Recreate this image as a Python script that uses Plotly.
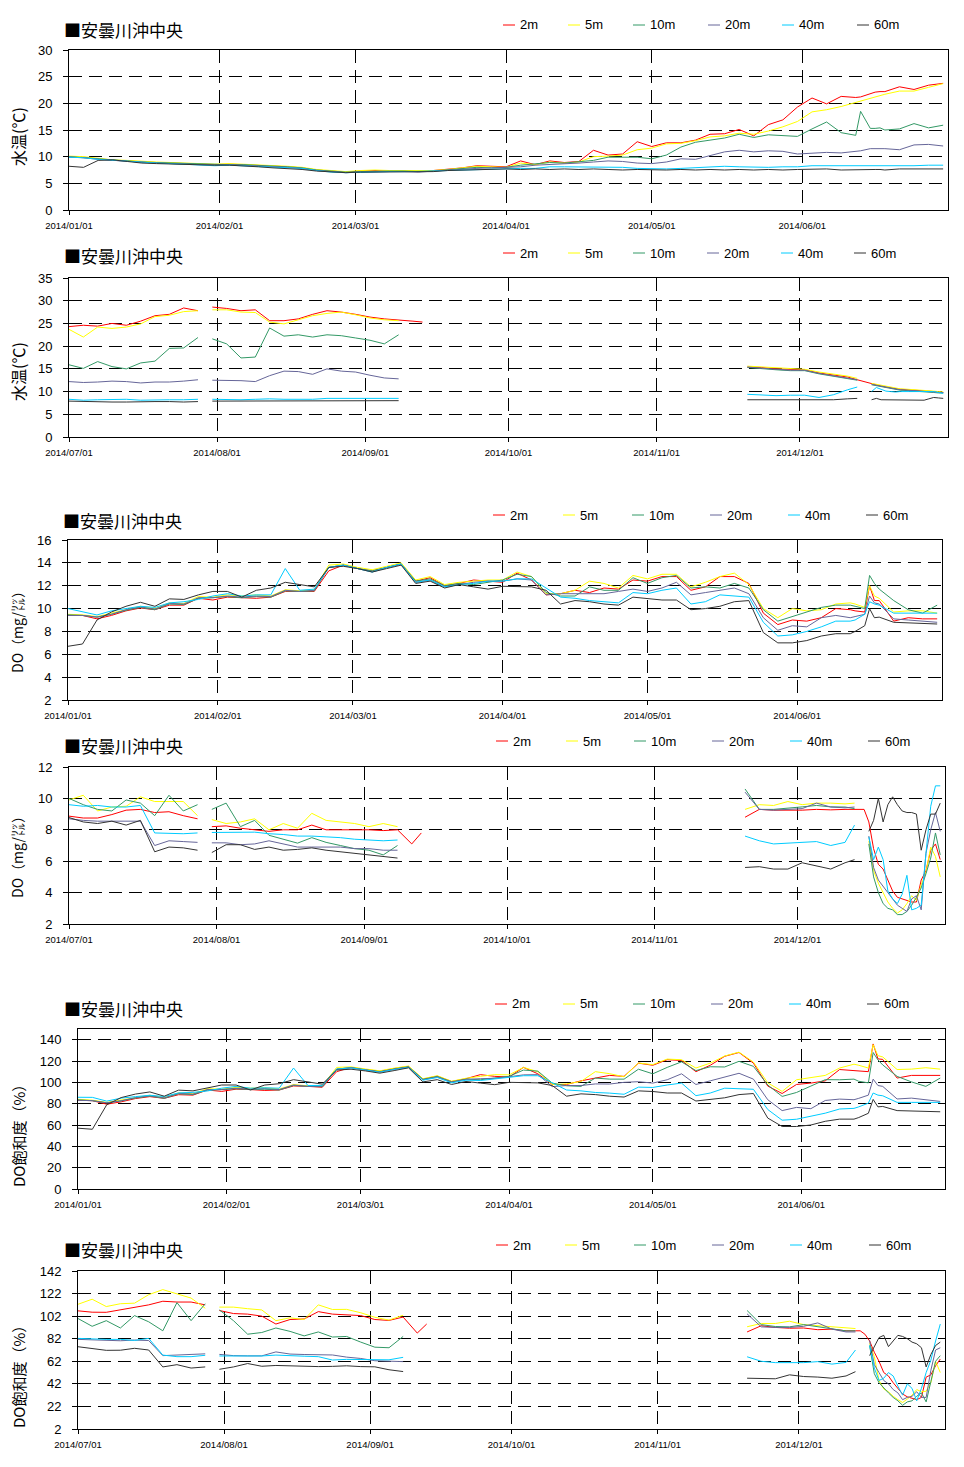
import plotly.graph_objects as go
from datetime import date, timedelta

N = None
W, H = 964, 1467
DEPTHS = ["2m", "5m", "10m", "20m", "40m", "60m"]
COLORS = ["#FF0000", "#FFFF00", "#339966", "#666699", "#00CCFF", "#333333"]
STATION = "■安曇川沖中央"

# sample days (offset from 2014-01-01 / 2014-07-01)
DAYS_H1 = [0, 3, 6, 9, 12, 15, 18, 21, 24, 27, 30, 33, 36, 39, 42, 45, 48, 51, 54, 57,
           60, 63, 66, 69, 72, 75, 78, 81, 84, 87, 90, 93, 96, 99, 102, 105, 108, 111, 114, 117,
           120, 123, 126, 129, 132, 135, 138, 141, 144, 147, 150, 153, 156, 159, 162,
           163, 165, 166, 167, 168, 171, 174, 177, 180]
DAYS_H2 = [0, 3, 6, 9, 12, 15, 18, 21, 24, 27, 28, 30, 33, 36, 39, 42, 45, 48, 51, 54, 57,
           60, 63, 66, 69, 72, 74, 80, 142, 145, 148, 151, 154, 157, 160, 163, 165, 166, 167,
           168, 169, 170, 171, 172, 173, 174, 175, 176, 177, 178, 179, 180, 181, 182, 183]
MONTHS_H1 = ["2014/01/01", "2014/02/01", "2014/03/01", "2014/04/01", "2014/05/01", "2014/06/01"]
MONTHS_H2 = ["2014/07/01", "2014/08/01", "2014/09/01", "2014/10/01", "2014/11/01", "2014/12/01"]

# ---------------- Panel 1: water temperature Jan-Jun ----------------
WT1_2m = [10.0, 9.9, 9.6, 9.3, 9.2, 9.0, 8.9, 8.8, 8.7, 8.6, 8.5, 8.6, 8.5, 8.4, 8.3, 8.1, 7.9, 7.5, 7.3, 7.1,
          7.3, 7.4, 7.3, 7.3, 7.2, 7.4, 7.6, 7.9,
          8.3, 8.2, 8.1, 9.2, 8.5, 9.2, 8.9, 9.1, 11.2, 10.3, 10.5, 12.8, 11.9, 12.6, 12.6, 13.1, 14.2, 14.3,
          15.1, 13.9, 16.0, 16.9, 19.3, 21.0, 19.9, 21.3, 21.1,
          21.2, 21.9, 22.1, 22.2, 22.2, 23.1, 22.6, 23.4, 23.75]
WT1_5m = [10.1, 10.0, 9.7, 9.4, 9.3, 9.1, 9.0, 8.9, 8.8, 8.7, 8.6, 8.7, 8.6, 8.5, 8.4, 8.2, 8.0, 7.6, 7.4, 7.2,
          7.4, 7.5, 7.4, 7.4, 7.3, 7.4, 7.6, 7.9,
          8.2, 8.1, 8.0, 8.8, 8.5, 9.0, 8.8, 9.0, 10.0, 10.1, 10.3, 11.3, 11.6, 12.4, 12.5, 13.0, 13.7, 13.9,
          14.4, 14.2, 14.8, 15.6, 16.6, 18.4, 18.8, 19.4, 20.2,
          20.4, 21.0, 21.2, 21.4, 21.7, 22.3, 22.3, 23.0, 23.7]
WT1_10m = [10.0, 9.8, 9.5, 9.3, 9.2, 9.0, 8.9, 8.8, 8.7, 8.6, 8.5, 8.5, 8.5, 8.4, 8.3, 8.1, 7.9, 7.5, 7.3, 7.1,
           7.2, 7.3, 7.3, 7.3, 7.2, 7.3, 7.5, 7.8,
           8.0, 7.9, 8.0, 8.4, 8.6, 8.9, 8.8, 9.0, 9.3, 9.9, 9.9, 9.9, 9.6, 10.3, 11.8, 12.7, 13.1, 13.5,
           14.2, 13.6, 14.1, 14.0, 13.8, 15.2, 16.5, 14.5, 14.0,
           18.5, 15.3, 15.3, 15.4, 15.0, 15.2, 16.2, 15.4, 15.9]
WT1_20m = [9.9, 9.8, 9.5, 9.3, 9.1, 8.9, 8.8, 8.7, 8.6, 8.5, 8.4, 8.5, 8.4, 8.3, 8.2, 8.0, 7.8, 7.4, 7.2, 7.0,
           7.1, 7.2, 7.2, 7.2, 7.1, 7.3, 7.5, 7.7,
           7.8, 7.9, 8.0, 8.1, 8.4, 8.5, 8.6, 8.8, 9.0, 9.2, 9.1, 8.8, 8.7, 9.0, 9.6, 9.5, 10.2, 10.9,
           11.2, 10.9, 11.1, 11.0, 10.5, 10.7, 10.8, 10.7, 10.9,
           11.1, 11.5, 11.5, 11.5, 11.5, 11.3, 12.2, 12.3, 12.0]
WT1_40m = [9.9, 9.8, 9.5, 9.3, 9.1, 8.9, 8.8, 8.7, 8.6, 8.5, 8.3, 8.4, 8.3, 8.2, 8.1, 8.0, 7.8, 7.4, 7.1, 7.0,
           7.1, 7.2, 7.2, 7.2, 7.2, 7.3, 7.4, 7.5,
           7.6, 7.6, 7.7, 7.8, 7.8, 8.1, 8.1, 8.1, 8.1, 8.1, 8.0, 7.8, 7.7, 7.7, 7.8, 7.9, 8.0, 8.2,
           8.1, 8.0, 8.0, 8.1, 8.1, 8.3, 8.3, 8.2, 8.2,
           8.2, 8.3, 8.3, 8.3, 8.3, 8.3, 8.3, 8.4, 8.4]
WT1_60m = [8.2, 8.0, 9.3, 9.4, 9.1, 8.8, 8.7, 8.6, 8.6, 8.5, 8.4, 8.4, 8.3, 8.1, 7.9, 7.8, 7.6, 7.3, 7.1, 7.0,
           7.1, 7.1, 7.2, 7.2, 7.2, 7.2, 7.4, 7.5,
           7.5, 7.6, 7.7, 7.6, 7.7, 7.6, 7.7, 7.6, 7.7, 7.6, 7.5, 7.6, 7.5, 7.5, 7.6, 7.5, 7.6, 7.5,
           7.6, 7.5, 7.6, 7.5, 7.6, 7.6, 7.7, 7.5, 7.6,
           7.6, 7.6, 7.6, 7.6, 7.5, 7.7, 7.7, 7.7, 7.7]

# ---------------- Panel 2: water temperature Jul-Dec ----------------
WT2_2m = [24.3, 24.6, 24.4, 25.0, 24.6, 25.5, 26.7, 27.0, 28.4, 27.8, N,
          28.6, 28.3, 27.8, 28.0, 25.6, 25.6, 26.0, 27.0, 27.8, 27.5, 27.0, 26.4, 26.0, 25.8, 25.5, 25.3, N,
          15.4, 15.3, 15.0, 14.9, 14.8, 14.1, 13.7, 13.2, 12.6, 12.3, 12.0,
          11.7, 11.5, 11.2, 11.0, 10.8, 10.6, 10.5, 10.45, 10.4, 10.3, 10.2, 10.15, 10.05, 10.0, 9.9, 9.8]
WT2_5m = [23.7, 22.0, 24.2, 23.9, 24.2, 24.9, 26.5, 26.8, 27.6, 27.8, N,
          28.0, 28.0, 27.5, 27.4, 25.3, 24.9, 25.8, 26.7, 27.2, 27.5, 26.9, 26.2, 25.8, 25.6, N, N, N,
          15.6, 15.4, 15.2, 15.0, 14.9, 14.3, 13.9, 13.4, 12.9, N, N,
          11.8, 11.6, 11.3, 11.1, 10.9, 10.7, 10.6, 10.55, 10.5, 10.4, 10.3, 10.25, 10.15, 10.1, 10.0, 9.9]
WT2_10m = [15.9, 15.1, 16.6, 15.5, 15.0, 16.3, 16.7, 19.5, 19.6, 21.9, N,
           21.6, 20.5, 17.4, 17.6, 24.0, 22.2, 22.5, 22.0, 22.5, 22.3, 21.8, 21.3, 20.5, 22.5, N, N, N,
           15.3, 15.0, 14.8, 14.6, 14.6, 13.9, 13.4, 12.8, 12.5, N, N,
           11.5, 11.3, 11.0, 10.8, 10.6, 10.4, 10.3, 10.25, 10.2, 10.1, 10.0, 9.95, 9.85, 9.8, 9.7, 9.7]
WT2_20m = [12.2, 12.0, 12.1, 12.3, 12.2, 11.9, 12.1, 12.1, 12.3, 12.6, N,
           12.5, 12.5, 12.4, 12.2, 13.5, 14.5, 14.4, 13.8, 15.0, 14.5, 14.3, 13.6, 13.0, 12.8, N, N, N,
           15.4, 15.1, 14.9, 14.7, 14.7, 14.0, 13.5, 12.9, 12.6, N, N,
           11.6, 11.4, 11.1, 10.9, 10.7, 10.5, 10.4, 10.35, 10.3, 10.2, 10.1, 10.0, 9.95, 9.9, 9.8, 9.8]
WT2_40m = [8.3, 8.1, 8.2, 8.3, 8.3, 8.1, 8.2, 8.2, 8.2, 8.3, N,
           8.3, 8.2, 8.2, 8.3, 8.4, 8.3, 8.3, 8.3, 8.5, 8.5, 8.5, 8.5, 8.5, 8.5, N, N, N,
           9.4, 9.3, 9.1, 9.2, 9.2, 8.7, 9.3, 10.4, 11.0, N, N,
           10.0, 10.9, 10.5, 10.1, 10.0, 9.9, 10.0, 10.0, 10.0, 10.0, 10.0, 10.0, 10.0, 10.0, 9.8, 9.6]
WT2_60m = [7.9, 7.8, 7.8, 7.7, 7.7, 7.8, 7.8, 7.8, 7.7, 7.8, N,
           7.9, 7.9, 7.9, 7.9, 8.0, 7.9, 8.0, 8.0, 8.0, 8.0, 8.0, 8.0, 8.0, 8.0, N, N, N,
           8.2, 8.2, 8.2, 8.2, 8.3, 8.2, 8.2, 8.4, 8.5, N, N,
           8.2, 8.5, 8.2, 8.2, 8.2, 8.2, 8.2, 8.2, 8.2, 8.1, 8.1, 8.1, 8.4, 8.7, 8.6, 8.5]

# ---------------- Panel 3: DO (mg/L) Jan-Jun ----------------
DO1_2m = [9.4, 9.4, 9.1, 9.4, 9.8, 10.05, 9.9, 10.3, 10.3, 10.9, 10.75, 11.0, 10.95, 10.9, 11.0, 11.5, 11.5, 11.5, 13.3,
          13.8, 13.5, 13.3, 13.6, 13.9, 12.4, 12.7, 12.0, 12.2,
          12.5, 12.4, 12.3, 13.1, 12.5, 11.2, 11.3, 11.6, 11.4, 11.8, 11.7, 12.5, 12.4, 12.8, 12.8, 11.6, 11.9,
          12.8, 12.8, 12.2, 9.6, 8.6, 9.0, 8.9, 9.2, 10.0, 9.9,
          9.8, 9.7, 12.0, 10.7, 10.7, 8.9, 9.2, 9.1, 9.1]
DO1_5m = [9.5, 9.45, 9.3, 9.6, 9.95, 10.2, 10.0, 10.5, 10.45, 11.05, 11.0, 11.2, 11.1, 11.2, 11.1, 11.65, 11.55, 11.65, 13.8,
          13.9, 13.6, 13.4, 13.7, 14.0, 12.5, 12.8, 12.1, 12.3,
          12.4, 12.5, 12.5, 13.2, 12.8, 11.3, 11.3, 11.6, 12.4, 12.2, 11.8, 12.9, 12.6, 13.0, 13.0, 11.9, 12.3,
          12.8, 13.1, 12.1, 10.0, 9.2, 10.0, 9.8, 9.9, 10.4, 10.5,
          10.4, 10.1, 12.0, 11.1, 10.9, 9.7, 9.8, 9.8, 9.6]
DO1_10m = [9.45, 9.4, 9.25, 9.5, 9.85, 10.1, 9.9, 10.4, 10.35, 10.9, 10.95, 11.05, 10.95, 11.05, 11.0, 11.55, 11.5, 11.55, 13.6,
           13.8, 13.5, 13.3, 13.6, 13.9, 12.4, 12.6, 12.0, 12.2,
           12.1, 12.3, 12.5, 13.0, 12.8, 11.4, 11.1, 11.1, 11.9, 11.6, 11.6, 12.7, 12.2, 12.7, 12.9, 11.8, 11.9,
           11.8, 12.2, 11.8, 9.9, 8.9, 9.3, 9.7, 10.1, 10.3, 10.3,
           10.2, 10.0, 12.9, 12.2, 11.7, 10.7, 9.9, 9.6, 10.3]
DO1_20m = [9.4, 9.4, 9.25, 9.5, 9.9, 10.15, 9.95, 10.45, 10.4, 10.95, 10.95, 11.1, 11.0, 11.1, 11.05, 11.6, 11.5, 11.6, 13.6,
           13.8, 13.5, 13.2, 13.6, 13.9, 12.3, 12.5, 11.9, 12.1,
           12.3, 12.4, 12.4, 12.6, 12.5, 11.2, 11.3, 11.3, 11.3, 11.3, 11.5, 11.7, 11.5, 11.8, 12.3, 11.2, 11.4,
           11.6, 11.8, 11.3, 9.2, 8.1, 8.5, 8.4, 9.2, 9.4, 9.2,
           9.3, 9.5, 11.1, 10.5, 10.4, 9.1, 9.0, 8.9, 8.8]
DO1_40m = [10.0, 9.75, 9.44, 9.8, 10.0, 10.2, 10.1, 10.5, 10.6, 10.8, 11.1, 11.3, 11.1, 11.2, 11.2, 13.5, 11.6, 11.7, 13.6,
           13.8, 13.5, 13.2, 13.6, 13.9, 12.3, 12.5, 11.9, 12.1,
           12.2, 12.4, 12.4, 12.6, 12.6, 11.8, 11.0, 10.9, 10.7, 10.6, 10.5, 11.4, 11.3, 11.6, 11.8, 10.4, 10.6,
           11.2, 11.1, 11.0, 8.8, 7.6, 7.7, 8.0, 8.4, 8.9, 8.9,
           9.0, 9.5, 10.6, 10.4, 10.3, 9.6, 9.6, 9.6, 9.6]
DO1_60m = [6.7, 6.9, 9.0, 9.7, 10.2, 10.55, 10.2, 10.85, 10.8, 11.2, 11.5, 11.5, 11.0, 11.6, 11.8, 12.3, 12.1, 11.9, 13.6,
           13.7, 13.5, 13.2, 13.5, 13.8, 12.2, 12.4, 11.8, 12.1,
           11.9, 11.7, 11.95, 11.95, 11.9, 11.6, 10.4, 10.7, 10.6, 10.4, 10.3, 11.0, 10.9, 10.75, 10.75, 9.9, 10.0,
           10.2, 10.6, 10.7, 7.9, 7.0, 7.0, 7.2, 7.6, 7.8, 7.8,
           8.0, 8.5, 10.0, 9.2, 9.25, 8.8, 8.75, 8.7, 8.65]

# ---------------- Panel 4: DO (mg/L) Jul-Dec ----------------
DO2_2m = [8.87, 8.75, 8.75, 8.97, 9.25, 9.3, 9.1, 9.15, 8.9, 8.7, N,
          8.2, 8.25, 8.1, 8.0, 7.9, 8.0, 8.0, 8.3, 8.0, 8.0, 8.0, 8.0, 7.95, 8.0, 7.1, 7.8, N,
          8.8, 9.3, 9.25, 9.25, 9.25, 9.3, 9.27, 9.3, 9.3, 9.3, 9.3,
          8.5, 6.8, 5.8, 5.5, 4.8, 4.1, 3.7, 3.6, 3.45, 3.4, 3.4, 4.8, 5.4, 6.7, 7.1, 6.1]
DO2_5m = [9.9, 10.2, 9.2, 9.45, 9.5, 10.1, 9.8, 9.8, 9.8, 8.9, N,
          8.65, 8.4, 8.5, 8.7, 8.0, 8.4, 8.1, 9.05, 8.6, 8.5, 8.4, 8.2, 8.4, 8.2, N, N, N,
          9.3, 9.6, 9.55, 9.8, 9.6, 9.7, 9.7, 9.65, 9.7, N, N,
          7.3, 5.4, 4.6, 4.0, 3.4, 3.0, 2.7, 2.9, 3.3, 3.8, 3.5, 4.5, 5.3, 6.9, 6.3, 5.0]
DO2_10m = [10.0, 9.6, 9.3, 9.2, 9.9, 9.7, 8.9, 10.2, 9.2, 9.6, N,
           9.3, 9.7, 8.2, 8.6, 7.65, 7.4, 7.15, 7.5, 7.2, 7.0, 6.8, 6.7, 6.4, 7.0, N, N, N,
           10.6, 9.3, 9.3, 9.4, 9.46, 9.55, 9.46, 9.45, 9.35, N, N,
           7.1, 5.0, 4.0, 3.3, 3.0, 2.9, 2.6, 2.6, 2.8, 3.2, 3.7, 4.3, 5.2, 6.2, 7.8, 6.4]
DO2_20m = [8.7, 8.6, 8.55, 8.55, 8.55, 8.55, 7.0, 7.3, 7.25, 7.2, N,
           7.17, 7.17, 7.05, 7.1, 7.3, 7.1, 6.9, 6.9, 6.9, 6.9, 6.8, 6.8, 6.7, 6.7, N, N, N,
           10.4, 9.3, 9.25, 9.3, 9.35, 9.7, 9.45, 9.4, 9.45, N, N,
           7.6, 5.6, 4.8, 4.4, 4.0, 3.6, 3.2, 3.0, 2.8, 3.6, 3.8, 2.9, 6.5, 8.0, 9.1, 7.9]
DO2_40m = [9.6, 9.5, 9.55, 9.45, 9.45, 9.55, 7.8, 7.77, 7.75, 7.8, N,
           7.83, 7.85, 7.85, 7.85, 7.75, 7.7, 7.6, 7.6, 7.55, 7.5, 7.4, 7.35, 7.3, 7.35, N, N, N,
           7.6, 7.3, 7.1, 7.15, 7.2, 7.25, 7.0, 7.2, 8.3, N, N,
           7.55, 6.1, 6.9, 6.1, 4.1, 3.6, 3.3, 3.9, 5.1, 2.9, 3.0, 3.2, 6.5, 9.5, 10.8, 10.8]
DO2_60m = [8.78, 8.5, 8.4, 8.55, 8.3, 8.6, 6.6, 6.9, 6.85, 6.7, N,
           6.55, 7.05, 7.05, 6.75, 6.9, 6.7, 6.75, 6.85, 6.7, 6.6, 6.5, 6.4, 6.3, 6.2, N, N, N,
           5.6, 5.65, 5.5, 5.5, 5.9, 5.7, 5.5, 5.9, 6.1, N, N,
           7.9, 8.6, 10.0, 8.5, 9.6, 10.1, 9.6, 9.2, 9.1, 9.1, 9.0, 6.7, 8.0, 9.0, 9.0, 9.7]

# ---------------- Panel 5: DO saturation (%) Jan-Jun ----------------
SAT1_2m = [83.2, 82.8, 79.5, 81.7, 84.8, 86.6, 85.0, 88.4, 88.0, 92.8, 91.5, 93.6, 93.2, 92.4, 92.8, 96.6, 96.2, 95.4,
           110, 114, 112, 110.4, 112.9, 114.9, 103, 105.8, 100.8, 103.4,
           107.2, 105.6, 105, 114, 108, 98, 98, 101.4, 104, 106.5, 105.6, 118, 116, 121.2, 120.5, 110, 116,
           124.4, 128, 118, 96.5, 89.5, 98, 99.3, 101.4, 112, 111,
           110.5, 110, 136, 122, 121.5, 104, 106.5, 106.5, 106.5]
SAT1_5m = [84.1, 83.3, 81.2, 83.5, 86.1, 87.9, 85.8, 90.1, 89.3, 94, 93.6, 95.3, 94.5, 94.9, 93.7, 97.9, 96.7, 96.7,
           114, 114.5, 112.5, 110.8, 113.3, 115.3, 103.4, 106.2, 101, 103.8,
           105.6, 107.2, 107, 114, 110, 98, 98.5, 100.8, 110, 108.1, 105.2, 118.1, 116.6, 121.8, 121.2, 113.4, 118,
           124.7, 128.3, 119, 99.5, 91.5, 102.4, 104.2, 106.5, 113.4, 117,
           116, 113.4, 135.3, 125, 123.8, 112, 112.4, 113.7, 112.4]
SAT1_10m = [83.6, 82.8, 80.8, 82.6, 85.3, 87.1, 85.0, 89.3, 88.5, 92.8, 93.2, 94.0, 93.2, 93.6, 92.8, 97.1, 96.2, 95.9,
            112.4, 113.8, 111.8, 110, 112.5, 114.6, 102.8, 105.5, 100.5, 103,
            102.4, 104, 105.6, 111.5, 110.5, 99.3, 96.8, 96.2, 104, 103, 103, 112.3, 108, 114, 119.2, 111, 114.6,
            114.4, 119.7, 115, 97.5, 86.8, 90.5, 96.5, 102.5, 102.4, 103,
            101, 99.5, 128, 121, 116.3, 105.6, 100.4, 96.2, 104]
SAT1_20m = [83.2, 82.8, 80.8, 82.6, 85.7, 87.5, 85.4, 89.7, 88.9, 93.2, 93.2, 94.5, 93.6, 94.1, 93.2, 97.5, 96.2, 96.3,
            112.4, 113.8, 111.6, 109.8, 112.3, 114.3, 102.5, 105, 100.2, 102.8,
            103.4, 103.8, 105.2, 107, 107.2, 96, 97, 97, 98.5, 98.4, 100, 100.6, 99.3, 102.4, 108, 98, 101.4,
            105.3, 108.5, 103, 83.7, 73.5, 76.5, 75.3, 83, 84.3, 83.7,
            85, 88, 103, 97, 96.2, 84.4, 85.2, 83.5, 82.1]
SAT1_40m = [86, 85.9, 82.4, 85.2, 86.6, 87.9, 86.7, 90.1, 90.6, 91.9, 94.5, 96.2, 94.5, 94.9, 94.5, 113.4, 97, 97.1,
            112.4, 113.5, 111.5, 109.5, 112, 114, 102, 104.5, 99.5, 102,
            101.7, 103.2, 104.5, 106.2, 106.2, 99.8, 92.8, 92, 90.5, 89.9, 88.8, 95.5, 95.2, 97.5, 99.3, 87.5, 90,
            94.5, 94, 93.5, 74.5, 64.5, 65.4, 68, 71.1, 75, 75.6,
            77, 80.5, 90, 88, 87.4, 81.2, 81.2, 81.2, 81.2]
SAT1_60m = [57, 56, 79, 85.7, 89, 91, 87, 92.7, 92, 95, 97.5, 97.5, 92.8, 97.5, 98.7, 102.5, 100.4, 98.3,
            111.5, 112.3, 110.7, 108.6, 111, 113.6, 100.4, 102.5, 98, 100.8,
            99.3, 97.8, 100, 100, 99.5, 97, 87, 89.2, 88.5, 87, 86.2, 92, 91.4, 90, 90, 82.5, 84,
            85.5, 88.5, 89.5, 66.5, 58.6, 58.6, 60, 63.5, 65.5, 65.5,
            67, 71, 84, 77, 77.4, 73.5, 73.3, 72.5, 72.4]

# ---------------- Panel 6: DO saturation (%) Jul-Dec ----------------
SAT2_2m = [106.7, 105.5, 105.4, 107.5, 109.5, 112, 115.2, 114.5, 114.5, 112, N,
           107, 104.3, 103.8, 102, 95, 99, 99.5, 106, 103.8, 103.3, 102.5, 99, 98.2, 101.2, 87, 95, N,
           88, 93.5, 92, 91.3, 91.5, 90, 90.5, 89, 89, 89, 86,
           80, 70, 62, 52, 49, 43, 38, 33, 30.5, 29, 28, 30, 48, 50, 58, 64]
SAT2_5m = [112.5, 117, 110.5, 113, 113.5, 121, 125.5, 122, 118, 109, N,
           110, 110, 108.6, 107.5, 98, 100.5, 99, 112, 107.9, 108, 105, 101, 98.5, 102.8, N, N, N,
           92.6, 95.5, 95.5, 97.5, 94.5, 93.5, 92.5, 92, 91, N, N,
           78, 66, 45, 37.5, 35, 31, 28, 25.5, 28.5, 32, 37, 35, 35.5, 43, 62, 52]
SAT2_10m = [99.9, 93, 98, 91.5, 102.5, 97, 89, 114, 98, 113, N,
            107.5, 98, 86, 87.5, 91.5, 88.5, 84.5, 88, 83.5, 84, 79, 74.5, 74, 84, N, N, N,
            107, 94.5, 92.8, 92.5, 94.5, 92.6, 91, 88.9, 89, N, N,
            76, 51, 43, 38, 34, 30, 27, 23, 26, 27, 31, 34, 26, 44, 62, 67]
SAT2_20m = [81.4, 81, 80.8, 80.2, 80.8, 80.4, 67, 67.5, 68.2, 68.6, N,
            68.1, 67, 66.8, 66.8, 70.3, 68.4, 68, 68, 67.6, 65.7, 64.5, 62.5, 62, 61.7, N, N, N,
            104, 92.5, 92, 92, 93, 96, 90.5, 88, 88, N, N,
            80.5, 59, 52, 45, 42, 37, 34, 28, 30, 31, 35, 30, 30, 54, 72, 74]
SAT2_40m = [82.3, 81.6, 81.4, 81.4, 80.5, 82.3, 67.5, 66.1, 66.1, 67.3, N,
            66.7, 66.7, 66.7, 66.7, 67.5, 66.7, 66.5, 66.1, 63.1, 63.7, 63.7, 63.5, 63.3, 65.5, N, N, N,
            66, 62, 60.8, 60.8, 60.8, 61.7, 59.5, 61, 72, N, N,
            76, 56, 45, 47, 52, 49, 40, 32, 42, 38, 27, 38, 52, 63, 80, 95]
SAT2_60m = [74.9, 73.3, 71.7, 71.8, 73.5, 72, 57, 59, 56, 57, N,
            54.9, 57, 60, 57.6, 58.3, 57.9, 57.3, 57.3, 57.5, 58, 57.3, 57.1, 54.5, 52.9, N, N, N,
            47, 47, 46.5, 50, 48.5, 48, 47, 49, 52.8, N, N,
            67, 75, 83, 85, 75, 80, 85, 84, 82, 79, 77.5, 74, 57, 68, 76, 79]


def to_dates(base, days):
    return [(base + timedelta(days=d)).isoformat() for d in days]


H1 = dict(base=date(2014, 1, 1), end="2014-07-01", days=DAYS_H1, months=MONTHS_H1)
H2 = dict(base=date(2014, 7, 1), end="2015-01-01", days=DAYS_H2, months=MONTHS_H2)

PANELS = [
    dict(half=H1, box=(69, 948, 50, 210), yr=[0, 30], yt=[0, 5, 10, 15, 20, 25, 30],
         series=[WT1_2m, WT1_5m, WT1_10m, WT1_20m, WT1_40m, WT1_60m],
         ytitle="水温(℃)", ytsize=16, ytpos=(18, 137), tpos=(62, 29),
         leg=([503, 568, 633, 708, 782, 857], 25)),
    dict(half=H2, box=(69, 948, 278, 437), yr=[0, 35], yt=[0, 5, 10, 15, 20, 25, 30, 35],
         series=[WT2_2m, WT2_5m, WT2_10m, WT2_20m, WT2_40m, WT2_60m],
         ytitle="水温(℃)", ytsize=16, ytpos=(18, 372), tpos=(62, 256),
         leg=([503, 568, 633, 707, 781, 854], 253)),
    dict(half=H1, box=(68, 942, 540, 700), yr=[2, 16], yt=[2, 4, 6, 8, 10, 12, 14, 16],
         series=[DO1_2m, DO1_5m, DO1_10m, DO1_20m, DO1_40m, DO1_60m],
         ytitle="DO（mg/㍑）", ytsize=14, ytpos=(17, 629), tpos=(61, 520),
         leg=([493, 563, 632, 710, 788, 866], 515)),
    dict(half=H2, box=(69, 945, 767, 924), yr=[2, 12], yt=[2, 4, 6, 8, 10, 12],
         series=[DO2_2m, DO2_5m, DO2_10m, DO2_20m, DO2_40m, DO2_60m],
         ytitle="DO（mg/㍑）", ytsize=14, ytpos=(17, 854), tpos=(62, 745),
         leg=([496, 566, 634, 712, 790, 868], 741)),
    dict(half=H1, box=(78, 945, 1029, 1189), yr=[0, 150], yt=[0, 20, 40, 60, 80, 100, 120, 140],
         series=[SAT1_2m, SAT1_5m, SAT1_10m, SAT1_20m, SAT1_40m, SAT1_60m],
         ytitle="DO飽和度（%）", ytsize=15, ytpos=(18, 1132), tpos=(62, 1008),
         leg=([495, 563, 633, 711, 789, 867], 1004)),
    dict(half=H2, box=(78, 945, 1271, 1429), yr=[2, 142], yt=[2, 22, 42, 62, 82, 102, 122, 142],
         series=[SAT2_2m, SAT2_5m, SAT2_10m, SAT2_20m, SAT2_40m, SAT2_60m],
         ytitle="DO飽和度（%）", ytsize=15, ytpos=(18, 1373), tpos=(62, 1249),
         leg=([496, 565, 634, 712, 790, 869], 1245)),
]

GRIDDASH = "13px,7px"
TICKFONT = dict(family="Liberation Sans", size=13, color="black")
XTICKFONT = dict(family="Liberation Sans", size=9.5, color="black")
CJK = "Noto Sans CJK JP"

fig = go.Figure()
layout = dict(width=W, height=H, margin=dict(l=0, r=0, t=0, b=0, pad=0), autosize=False,
              paper_bgcolor="white", plot_bgcolor="white", showlegend=False,
              hovermode=False, font=dict(family="Liberation Sans", color="black"))
shapes, annos = [], []

for i, p in enumerate(PANELS, start=1):
    sfx = "" if i == 1 else str(i)
    x0, x1, y0, y1 = p["box"]
    half = p["half"]
    xs = to_dates(half["base"], half["days"])
    for name, col, vals in zip(DEPTHS, COLORS, p["series"]):
        assert len(vals) == len(xs), (i, name, len(vals), len(xs))
        fig.add_trace(go.Scatter(x=xs, y=vals, mode="lines", name=name,
                                 line=dict(color=col, width=1), connectgaps=False,
                                 xaxis="x" + sfx, yaxis="y" + sfx, hoverinfo="skip"))
    layout["xaxis" + sfx] = dict(
        domain=[x0 / W, x1 / W], anchor="y" + sfx, type="date", automargin=False,
        range=[half["base"].isoformat(), half["end"]],
        tickvals=[m.replace("/", "-") for m in half["months"]], ticktext=half["months"],
        tickfont=XTICKFONT, ticks="outside", ticklen=4, tickcolor="black", tickwidth=1,
        ticklabelstandoff=3,
        showline=True, linecolor="black", linewidth=1, mirror=True,
        showgrid=True, gridcolor="black", gridwidth=1, griddash=GRIDDASH, zeroline=False)
    layout["yaxis" + sfx] = dict(
        domain=[1 - y1 / H, 1 - y0 / H], anchor="x" + sfx, range=p["yr"], automargin=False,
        tickvals=p["yt"], tickfont=TICKFONT, ticks="outside", ticklen=5,
        tickcolor="black", tickwidth=1, ticklabelstandoff=8,
        showline=True, linecolor="black", linewidth=1, mirror=True,
        showgrid=True, gridcolor="black", gridwidth=1, griddash=GRIDDASH, zeroline=False)

    # station title
    tx, ty = p["tpos"]
    annos.append(dict(text=STATION, x=tx / W, y=1 - ty / H, xref="paper", yref="paper",
                      xanchor="left", yanchor="middle", showarrow=False,
                      font=dict(family=CJK, size=17, color="black")))
    # y-axis title
    ax, ay = p["ytpos"]
    annos.append(dict(text=p["ytitle"], x=ax / W, y=1 - ay / H, xref="paper", yref="paper",
                      xanchor="center", yanchor="middle", showarrow=False, textangle=-90,
                      font=dict(family=CJK, size=p["ytsize"], color="black")))
    # legend
    lxs, ly = p["leg"]
    for lx, name, col in zip(lxs, DEPTHS, COLORS):
        shapes.append(dict(type="line", xref="paper", yref="paper",
                           x0=lx / W, x1=(lx + 12) / W, y0=1 - ly / H, y1=1 - ly / H,
                           line=dict(color=col, width=1)))
        annos.append(dict(text=name, x=(lx + 15) / W, y=1 - ly / H, xref="paper", yref="paper",
                          xanchor="left", yanchor="middle", showarrow=False,
                          font=dict(family="Liberation Sans", size=13, color="black")))

layout["shapes"] = shapes
layout["annotations"] = annos
fig.update_layout(**layout)
fig.write_html("out.html")
